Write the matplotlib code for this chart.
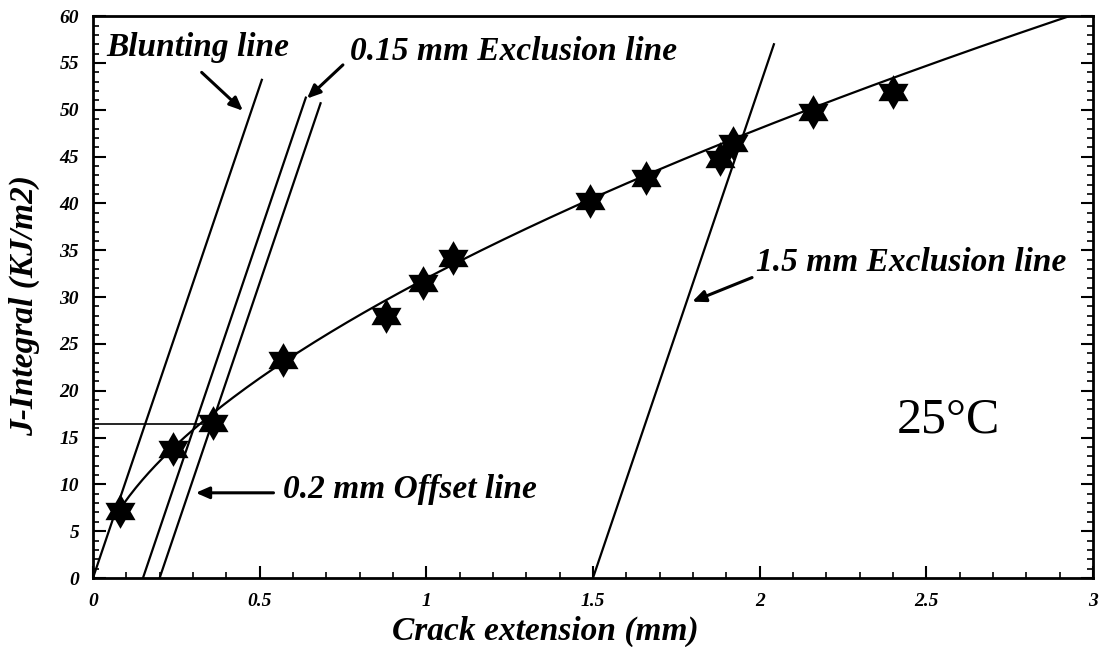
import numpy as np
import matplotlib
matplotlib.use("Agg")
import matplotlib.pyplot as plt

# Measured J-R data points
crack_ext = [0.08, 0.24, 0.36, 0.57, 0.88, 0.99, 1.08, 1.49, 1.66, 1.88, 1.92, 2.16, 2.40]
j_values = [7.2, 13.8, 16.6, 23.3, 28.0, 31.5, 34.2, 40.3, 42.7, 44.8, 46.5, 49.8, 51.9]

# Power-law J-R curve fit: J = C * da^N
FIT_C = 32.0
FIT_N = 0.585

# Blunting line slope (2 * flow stress) and line offsets
BLUNT_SLOPE = 105.0
line_offsets = [0.0, 0.15, 0.2, 1.5]
line_top_j = [53.2, 51.3, 50.7, 57.0]

JQ_LEVEL = 16.5
JQ_END = 0.36

x_ticks = [0, 0.5, 1, 1.5, 2, 2.5, 3]
x_tick_labels = ["0", "0.5", "1", "1.5", "2", "2.5", "3"]
y_ticks = list(range(0, 61, 5))

serif = "Liberation Serif"

# Solid six-pointed star marker
ang = np.deg2rad(90 + 30 * np.arange(12))
rad = np.where(np.arange(12) % 2 == 0, 1.0, 0.577)
hexagram = np.column_stack([rad * np.cos(ang), rad * np.sin(ang)])

fig = plt.figure(figsize=(11.0, 6.47), dpi=100)
ax = fig.add_axes([0.0845, 0.1066, 0.9091, 0.8684])

# Fitted curve
xf = np.linspace(crack_ext[0], 3.0, 300)
ax.plot(xf, FIT_C * xf ** FIT_N, color="black", lw=1.6, zorder=3)

# Blunting, exclusion and offset lines
for off, jt in zip(line_offsets, line_top_j):
    ax.plot([off, off + jt / BLUNT_SLOPE], [0, jt], color="black", lw=1.6, zorder=3)

# J_Q horizontal level
ax.plot([0, JQ_END], [JQ_LEVEL, JQ_LEVEL], color="black", lw=1.2, zorder=3)

# Data markers
ax.plot(crack_ext, j_values, linestyle="none", marker=hexagram, ms=25,
        color="black", markeredgewidth=0, zorder=5)

ax.set_xlim(0, 3)
ax.set_ylim(0, 60)
ax.set_xticks(x_ticks)
ax.set_xticklabels(x_tick_labels)
ax.set_yticks(y_ticks)
ax.set_xticks(np.arange(0, 3.001, 0.1), minor=True)
ax.set_yticks(np.arange(0, 60.001, 1), minor=True)
ax.tick_params(which="major", direction="in", length=9, width=1.5, right=True)
ax.tick_params(which="minor", direction="in", length=4.5, width=1.2, right=True)
ax.tick_params(axis="x", pad=11)
ax.tick_params(axis="y", pad=10)
for lab in ax.get_xticklabels() + ax.get_yticklabels():
    lab.set_fontfamily(serif)
    lab.set_fontweight("bold")
    lab.set_fontstyle("italic")
    lab.set_fontsize(14)
for sp in ax.spines.values():
    sp.set_linewidth(2)

lbl_kw = dict(fontfamily=serif, fontweight="bold", fontstyle="italic", fontsize=24)
fig.text(545 / 1100, 1 - 631 / 647, "Crack extension (mm)", ha="center", va="center", **lbl_kw)
fig.text(24 / 1100, 1 - 305 / 647, "J-Integral (KJ/m2)", ha="center", va="center",
         rotation=90, **lbl_kw)

lab_kw = dict(fontfamily=serif, fontweight="bold", fontstyle="italic", fontsize=24)
arr_kw = dict(arrowstyle="-|>,head_length=0.8,head_width=0.35", color="black", lw=2.2)

ax.text(0.04, 56.7, "Blunting line", ha="left", va="center", **lab_kw)
ax.annotate("", xy=(0.456, 49.7), xytext=(0.32, 54.2), arrowprops=arr_kw)

ax.text(0.77, 56.2, "0.15 mm Exclusion line", ha="left", va="center", **lab_kw)
ax.annotate("", xy=(0.636, 51.0), xytext=(0.756, 55.0), arrowprops=arr_kw)

ax.text(0.57, 9.5, "0.2 mm Offset line", ha="left", va="center", **lab_kw)
ax.annotate("", xy=(0.30, 9.1), xytext=(0.55, 9.1), arrowprops=arr_kw)

ax.text(1.99, 33.7, "1.5 mm Exclusion line", ha="left", va="center", **lab_kw)
ax.annotate("", xy=(1.79, 29.4), xytext=(1.985, 32.2), arrowprops=arr_kw)

ax.text(2.41, 16.9, "25°C", ha="left", va="center", fontfamily=serif, fontsize=36)

fig.savefig("out.png", dpi=100)
